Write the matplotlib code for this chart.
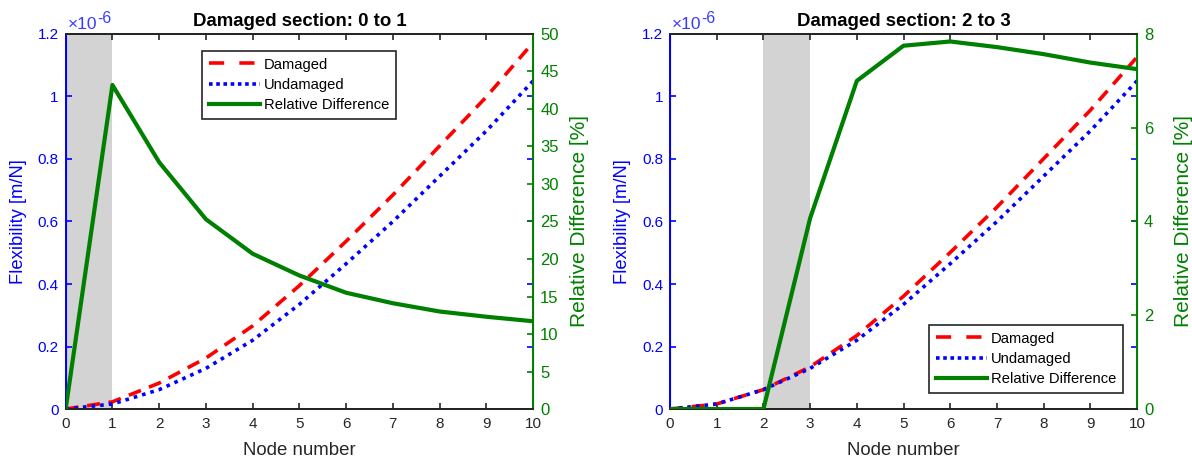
import matplotlib
matplotlib.use('Agg')
import matplotlib.pyplot as plt
from matplotlib.lines import Line2D
from matplotlib.ticker import FuncFormatter
import numpy as np

plt.rcParams['font.family'] = ['Liberation Sans', 'DejaVu Sans']

# Flexibility values per node, in units of 1e-6 m/N
nodes = np.arange(0, 11)
undamaged = [0.0, 0.016, 0.062, 0.130, 0.220, 0.335, 0.465, 0.600, 0.745, 0.890, 1.050]
damaged_01 = [0.0, 0.023, 0.083, 0.163, 0.266, 0.395, 0.537, 0.685, 0.842, 0.999, 1.173]
damaged_23 = [0.0, 0.016, 0.062, 0.135, 0.235, 0.361, 0.501, 0.646, 0.801, 0.956, 1.126]

# Relative difference between damaged and undamaged flexibility [%]
reldiff_01 = [0.0, 43.2, 32.9, 25.3, 20.7, 17.8, 15.5, 14.1, 13.0, 12.3, 11.7]
reldiff_23 = [0.0, 0.0, 0.0, 4.07, 7.0, 7.75, 7.84, 7.72, 7.57, 7.39, 7.25]

sections = [(0, 1), (2, 3)]
reldiff_max = [50, 8]
reldiff_step = [5, 2]

BLUE = '#0000ff'
GREEN = '#008000'
DARK = '#262626'

fig = plt.figure(figsize=(11.92, 4.63), dpi=100)
positions = [[0.0551, 0.1166, 0.3922, 0.810], [0.5621, 0.1166, 0.3918, 0.810]]
legend_anchor = [(0.1695, 0.890), (0.7794, 0.298)]

panels = [(damaged_01, reldiff_01), (damaged_23, reldiff_23)]

for k, (damaged, reldiff) in enumerate(panels):
    ax = fig.add_axes(positions[k])
    ax2 = ax.twinx()

    lo, hi = sections[k]
    ax.axvspan(lo, hi, color='#d3d3d3', lw=0, zorder=0)

    ax.plot(nodes, np.array(damaged) * 1e-6, color='red', lw=2.6,
            dashes=(3.6, 2.4), dash_capstyle='butt', zorder=2)
    ax.plot(nodes, np.array(undamaged) * 1e-6, color=BLUE, lw=2.6,
            dashes=(1.0, 1.4), dash_capstyle='butt', zorder=3)
    ax2.plot(nodes, reldiff, color=GREEN, lw=3.0, zorder=3)

    ax.set_xlim(0, 10)
    ax.set_ylim(0, 1.2e-6)
    ax2.set_ylim(0, reldiff_max[k])
    ax.set_xticks(range(0, 11))
    ax.set_yticks(np.arange(0, 1.21e-6, 0.2e-6))
    ax.yaxis.set_major_formatter(FuncFormatter(lambda v, p: f'{v / 1e-6:g}'))
    ax2.set_yticks(np.arange(0, reldiff_max[k] + 0.1, reldiff_step[k]))

    ax.tick_params(axis='x', direction='in', length=4.5, width=1.2, colors=DARK,
                   labelsize=11, top=True, pad=6)
    ax.tick_params(axis='y', direction='in', length=4.5, width=1.2, colors=BLUE,
                   labelsize=11, right=True, pad=5)
    ax2.tick_params(axis='y', direction='in', length=4.5, width=1.2, colors=GREEN,
                    labelsize=12, pad=5)

    for side in ('top', 'bottom'):
        ax.spines[side].set_color(DARK)
        ax.spines[side].set_linewidth(1.4)
        ax2.spines[side].set_color(DARK)
        ax2.spines[side].set_linewidth(1.4)
    ax2.spines['left'].set_color(BLUE)
    ax2.spines['left'].set_linewidth(1.4)
    ax2.spines['right'].set_color(GREEN)
    ax2.spines['right'].set_linewidth(1.4)

    ax.set_xlabel('Node number', fontsize=13.4, color=DARK)
    ax.xaxis.set_label_coords(0.5, -0.088)
    ax.set_ylabel('Flexibility [m/N]', fontsize=13.2, color=BLUE)
    ax.yaxis.set_label_coords(-0.083, 0.5)
    ax2.set_ylabel('Relative Difference [%]', fontsize=15, color=GREEN)
    ax2.yaxis.set_label_coords(1.079, 0.5)

    # axis multiplier above the left axis: "×10" with a raised exponent
    mult = ax.annotate('×10', xy=(0, 1), xycoords='axes fraction',
                       xytext=(2, 2), textcoords='offset pixels',
                       color='#3b3bff', fontsize=12.5, ha='left', va='bottom')
    ax.annotate('-6', xy=(1, 0.4), xycoords=mult, color='#3b3bff', fontsize=11.5,
                ha='left', va='bottom')

    ax.set_title(f'Damaged section: {lo} to {hi}', fontsize=13.4, fontweight='bold',
                 pad=6)

    # Legend proxies with the longer dash pattern of the legend sample
    handles = [
        Line2D([], [], color='red', lw=2.6, dashes=(4.2, 4.2), dash_capstyle='butt'),
        Line2D([], [], color=BLUE, lw=2.6, dashes=(1.0, 1.0), dash_capstyle='butt'),
        Line2D([], [], color=GREEN, lw=3.0),
    ]
    leg = ax2.legend(handles, ['Damaged', 'Undamaged', 'Relative Difference'],
                     loc='upper left', bbox_to_anchor=legend_anchor[k],
                     bbox_transform=fig.transFigure, fontsize=10.6,
                     handlelength=3.5, handletextpad=0.25, labelspacing=0.42,
                     borderpad=0.45, borderaxespad=0, fancybox=False,
                     framealpha=1, edgecolor=DARK)
    leg.get_frame().set_linewidth(1.2)

fig.savefig('out.png', dpi=100)
